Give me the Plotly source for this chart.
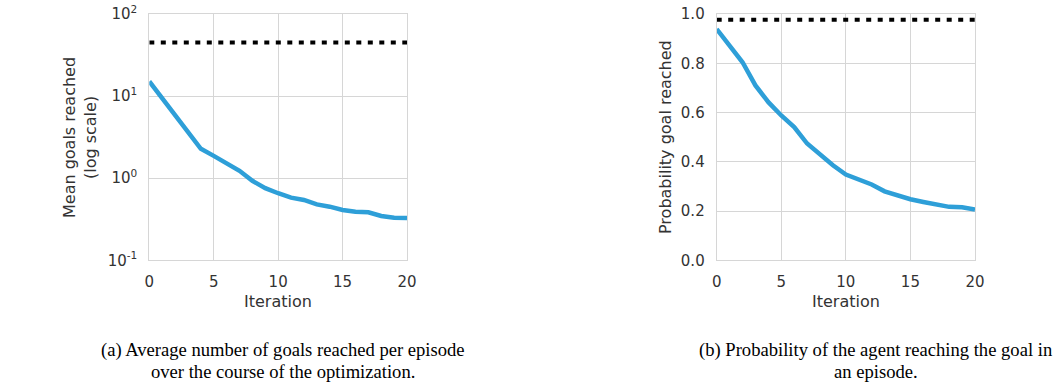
import plotly.graph_objects as go

iterations = list(range(21))
mean_goals = [15.1, 9.3, 5.75, 3.54, 2.28, 1.87, 1.52, 1.23, 0.93, 0.755, 0.656,
              0.58, 0.543, 0.48, 0.45, 0.41, 0.39, 0.385, 0.347, 0.33, 0.328]
mean_goals_ref = 45.0
prob_goal = [0.939, 0.872, 0.804, 0.71, 0.642, 0.588, 0.541, 0.474, 0.429, 0.386, 0.348,
             0.329, 0.308, 0.28, 0.262, 0.248, 0.237, 0.227, 0.217, 0.215, 0.206]
prob_goal_ref = 0.977

log_tickvals = [0.1, 1, 10, 100]
log_ticktext = ["10<sup>-1</sup>", "10<sup>0</sup>", "10<sup>1</sup>", "10<sup>2</sup>"]
x_ticks = [0, 5, 10, 15, 20]
prob_ticks = [0.0, 0.2, 0.4, 0.6, 0.8, 1.0]

x_title = "Iteration"
y_title_a = "Mean goals reached<br>(log scale)"
y_title_b = "Probability goal reached"
caption_a = ["(a) Average number of goals reached per episode", "over the course of the optimization."]
caption_b = ["(b) Probability of the agent reaching the goal in", "an episode."]

BLUE = "#2e9fd8"
GRID = "#d6d6d6"
TXT = "#333333"
FONT = "DejaVu Sans"
W, H = 1060, 383
DOTS = "5px,6.5px"

fig = go.Figure()

fig.add_trace(go.Scatter(x=[iterations[0], iterations[-1]], y=[mean_goals_ref, mean_goals_ref],
                         mode="lines", line=dict(color="black", width=4, dash=DOTS),
                         xaxis="x", yaxis="y", showlegend=False))
fig.add_trace(go.Scatter(x=iterations, y=mean_goals, mode="lines",
                         line=dict(color=BLUE, width=4.5), xaxis="x", yaxis="y", showlegend=False))

fig.add_trace(go.Scatter(x=[iterations[0], iterations[-1]], y=[prob_goal_ref, prob_goal_ref],
                         mode="lines", line=dict(color="black", width=4, dash=DOTS),
                         xaxis="x2", yaxis="y2", showlegend=False))
fig.add_trace(go.Scatter(x=iterations, y=prob_goal, mode="lines",
                         line=dict(color=BLUE, width=4.5), xaxis="x2", yaxis="y2", showlegend=False))

axis_common = dict(showgrid=True, gridcolor=GRID, gridwidth=1, showline=True, linecolor=GRID,
                   linewidth=1, mirror=True, zeroline=False, ticks="", automargin=False,
                   ticklabelstandoff=8,
                   tickfont=dict(family=FONT, size=15, color=TXT))

ax_l = (149.3 / W, 407 / W)
ax_r = (716.7 / W, 975 / W)
ay = (1 - 260.3 / H, 1 - 14 / H)


def px_x(p):
    return p / W


def px_y(p):
    return 1 - p / H


annotations = [
    dict(text=x_title, x=px_x(278), y=px_y(301)),
    dict(text=x_title, x=px_x(846), y=px_y(301)),
    dict(text=y_title_a, x=px_x(80), y=px_y(138), textangle=-90),
    dict(text=y_title_b, x=px_x(665), y=px_y(137), textangle=-90),
]
for a in annotations:
    a.update(xref="paper", yref="paper", showarrow=False, xanchor="center", yanchor="middle",
             font=dict(family=FONT, size=16, color=TXT))

for line, yy in zip(caption_a, [350, 371]):
    annotations.append(dict(text=line, x=px_x(283), y=px_y(yy)))
for line, yy in zip(caption_b, [350, 371]):
    annotations.append(dict(text=line, x=px_x(876), y=px_y(yy)))
for a in annotations[4:]:
    a.update(xref="paper", yref="paper", showarrow=False, xanchor="center", yanchor="middle",
             font=dict(family="Liberation Serif", size=18.6, color="black"))

fig.update_layout(
    width=W, height=H,
    margin=dict(l=0, r=0, t=0, b=0),
    paper_bgcolor="white", plot_bgcolor="white",
    font=dict(family=FONT, color=TXT),
    xaxis=dict(domain=list(ax_l), range=[0, 20], tickvals=x_ticks, anchor="y", **axis_common),
    yaxis=dict(domain=list(ay), type="log", range=[-1, 2], tickvals=log_tickvals,
               ticktext=log_ticktext, anchor="x", **axis_common),
    xaxis2=dict(domain=list(ax_r), range=[0, 20], tickvals=x_ticks, anchor="y2", **axis_common),
    yaxis2=dict(domain=list(ay), range=[0, 1.0], tickvals=prob_ticks,
                tickformat=".1f", anchor="x2", **axis_common),
    annotations=annotations,
)

fig.write_html("out.html", config={"displayModeBar": False},
               post_script="document.body.style.margin='0';document.body.style.overflow='hidden';")
